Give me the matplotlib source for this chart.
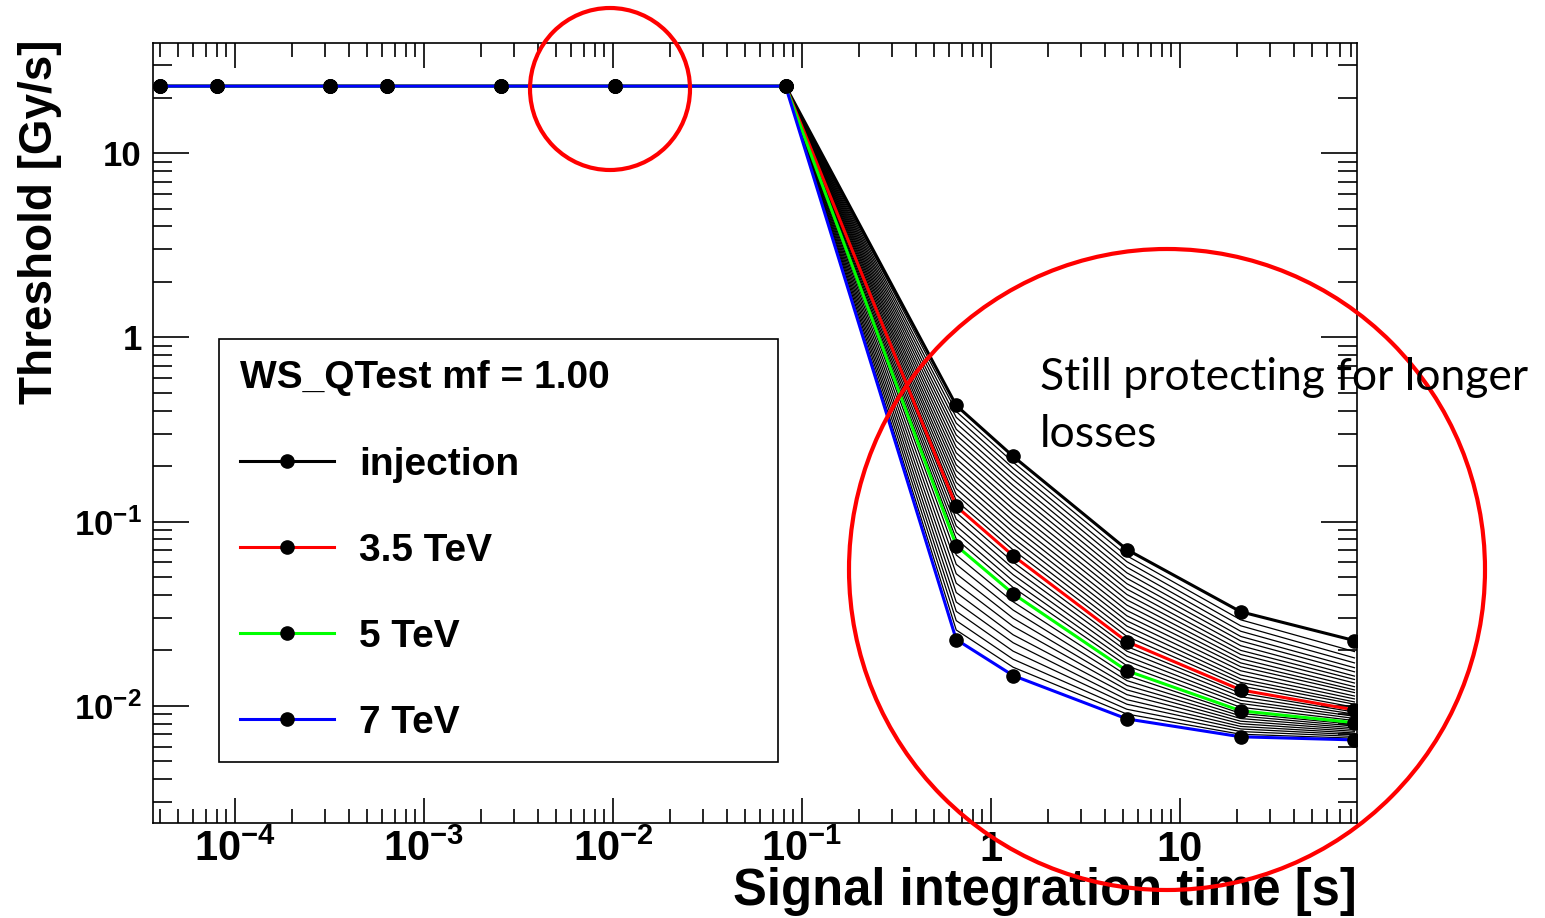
import matplotlib.pyplot as plt
from matplotlib.patches import Ellipse
from matplotlib.ticker import LogLocator, NullFormatter

plt.rcParams['font.family'] = ['Liberation Sans', 'DejaVu Sans']
plt.rcParams['mathtext.fontset'] = 'custom'
plt.rcParams['mathtext.rm'] = 'Liberation Sans:bold'
plt.rcParams['mathtext.bf'] = 'Liberation Sans:bold'
plt.rcParams['mathtext.it'] = 'Liberation Sans:bold:italic'
plt.rcParams['mathtext.default'] = 'rm'

# running sums (s)
times = [4e-5, 8e-5, 3.2e-4, 6.4e-4, 2.56e-3, 1.024e-2, 8.192e-2,
         0.65536, 1.31072, 5.24288, 20.97152, 83.88608]
inj = [23.1, 23.1, 23.1, 23.1, 23.1, 23.1, 23.1, 0.427, 0.226, 0.0705, 0.0324, 0.0226]
tev35 = [23.1, 23.1, 23.1, 23.1, 23.1, 23.1, 23.1, 0.121, 0.0653, 0.0223, 0.0122, 0.0095]
tev5 = [23.1, 23.1, 23.1, 23.1, 23.1, 23.1, 23.1, 0.0741, 0.0406, 0.0155, 0.0094, 0.0081]
tev7 = [23.1, 23.1, 23.1, 23.1, 23.1, 23.1, 23.1, 0.0229, 0.0146, 0.00849, 0.00679, 0.00653]

# intermediate energies: flat part is the same, tails at the last 5 sums
plateau = [23.1, 23.1, 23.1, 23.1, 23.1, 23.1, 23.1]
tails = [
    [0.396, 0.21, 0.0652, 0.0293, 0.0197],
    [0.368, 0.195, 0.0606, 0.0272, 0.0182],
    [0.342, 0.182, 0.0565, 0.0254, 0.0171],
    [0.317, 0.169, 0.0527, 0.0238, 0.0161],
    [0.295, 0.157, 0.0492, 0.0225, 0.0153],
    [0.274, 0.146, 0.046, 0.0212, 0.0145],
    [0.254, 0.136, 0.043, 0.02, 0.0139],
    [0.236, 0.126, 0.0402, 0.019, 0.0133],
    [0.219, 0.117, 0.0376, 0.018, 0.0127],
    [0.203, 0.109, 0.0352, 0.0171, 0.0122],
    [0.189, 0.101, 0.0329, 0.0163, 0.0118],
    [0.175, 0.0941, 0.0308, 0.0155, 0.0113],
    [0.163, 0.0875, 0.0289, 0.0147, 0.0109],
    [0.151, 0.0813, 0.0271, 0.014, 0.0105],
    [0.14, 0.0756, 0.0254, 0.0134, 0.0102],
    [0.13, 0.0702, 0.0238, 0.0128, 0.00982],
    [0.112, 0.0603, 0.021, 0.0117, 0.00925],
    [0.103, 0.0557, 0.0198, 0.0112, 0.00901],
    [0.0947, 0.0515, 0.0186, 0.0107, 0.00877],
    [0.0873, 0.0476, 0.0175, 0.0103, 0.00854],
    [0.0804, 0.0439, 0.0165, 0.00982, 0.00832],
    [0.0659, 0.0367, 0.0146, 0.0091, 0.00793],
    [0.0586, 0.0331, 0.0137, 0.00881, 0.00776],
    [0.0521, 0.0299, 0.0129, 0.00853, 0.00759],
    [0.0463, 0.027, 0.0122, 0.00825, 0.00743],
    [0.0412, 0.0243, 0.0115, 0.00799, 0.00727],
    [0.0366, 0.022, 0.0108, 0.00773, 0.00712],
    [0.0326, 0.0198, 0.0102, 0.00749, 0.00697],
    [0.029, 0.0179, 0.00958, 0.00725, 0.00682],
    [0.0258, 0.0162, 0.00902, 0.00701, 0.00667],
]

labels = ['injection', '3.5 TeV', '5 TeV', '7 TeV']
xtick_vals = [1e-4, 1e-3, 1e-2, 1e-1, 1, 10]
xtick_labels = ['$10^{-4}$', '$10^{-3}$', '$10^{-2}$', '$10^{-1}$', '1', '10']
ytick_vals = [1e-2, 1e-1, 1, 10]
ytick_labels = ['$10^{-2}$', '$10^{-1}$', '1', '10']

fig = plt.figure(figsize=(15.45, 9.18), dpi=100)
ax = fig.add_axes([0.0990, 0.1035, 0.7793, 0.8497])
ax.set_xscale('log')
ax.set_yscale('log')

for tl in tails:
    ax.plot(times, plateau + tl, color='black', lw=0.9, zorder=2)

kw = dict(marker='o', ms=9.5, mfc='black', mec='black', lw=2.2)
h1, = ax.plot(times, inj, color='black', zorder=3, **kw)
h2, = ax.plot(times, tev35, color='#ff0000', zorder=4, **kw)
h3, = ax.plot(times, tev5, color='#00ff00', zorder=5, **kw)
h4, = ax.plot(times, tev7, color='#0000ff', zorder=6, **kw)

ax.set_xlim(10 ** -4.434, 10 ** 1.937)
ax.set_ylim(10 ** -2.636, 10 ** 1.598)

ax.set_xticks(xtick_vals, xtick_labels)
ax.set_yticks(ytick_vals, ytick_labels)
ax.xaxis.set_minor_locator(LogLocator(base=10, subs=range(2, 10), numticks=50))
ax.yaxis.set_minor_locator(LogLocator(base=10, subs=range(2, 10), numticks=50))
ax.xaxis.set_minor_formatter(NullFormatter())
ax.yaxis.set_minor_formatter(NullFormatter())
ax.tick_params(which='both', direction='in', top=True, right=True, width=1.2)
ax.tick_params(axis='x', which='major', length=18, labelsize=30, pad=5)
ax.tick_params(axis='x', which='minor', length=10)
ax.tick_params(axis='y', which='major', length=26, labelsize=25, pad=8)
ax.tick_params(axis='y', which='minor', length=14)
for lab in ax.get_xticklabels() + ax.get_yticklabels():
    lab.set_fontweight('bold')
for s in ax.spines.values():
    s.set_linewidth(1.2)

ax.set_xlabel('Signal integration time [s]', fontsize=36.5, fontweight='bold',
              ha='right', va='center')
ax.xaxis.set_label_coords(1.0, (823 - 892) / 780)
ax.set_ylabel('Threshold [Gy/s]', fontsize=33, fontweight='bold',
              ha='center', va='center')
ax.yaxis.set_label_coords((40 - 153) / 1204, (823 - 222) / 780)

leg = ax.legend([h1, h2, h3, h4], labels,
                title='WS_QTest mf = 1.00', loc='upper left',
                bbox_to_anchor=(0.0548, 0.0769, 0.4643, 0.5436), mode='expand',
                borderaxespad=0, prop={'weight': 'bold', 'size': 28},
                title_fontproperties={'weight': 'bold', 'size': 28},
                alignment='left', fancybox=False, framealpha=1, edgecolor='black',
                handlelength=2.4, handletextpad=0.65, labelspacing=1.29,
                borderpad=0.55, numpoints=1)
leg.get_frame().set_linewidth(1.2)

fig.text(1040 / 1545, 1 - 357 / 918, 'Still protecting for longer\nlosses',
         fontsize=32, family='Lato', va='top', ha='left', linespacing=1.48)

fig.add_artist(Ellipse((610 / 1545, 1 - 89 / 918), 160 / 1545, 162 / 918,
                       transform=fig.transFigure, fill=False, ec='#ff0000', lw=3))
fig.add_artist(Ellipse((1167 / 1545, 1 - 569.5 / 918), 636 / 1545, 641 / 918,
                       transform=fig.transFigure, fill=False, ec='#ff0000', lw=3))

fig.savefig('out.png', dpi=100)
